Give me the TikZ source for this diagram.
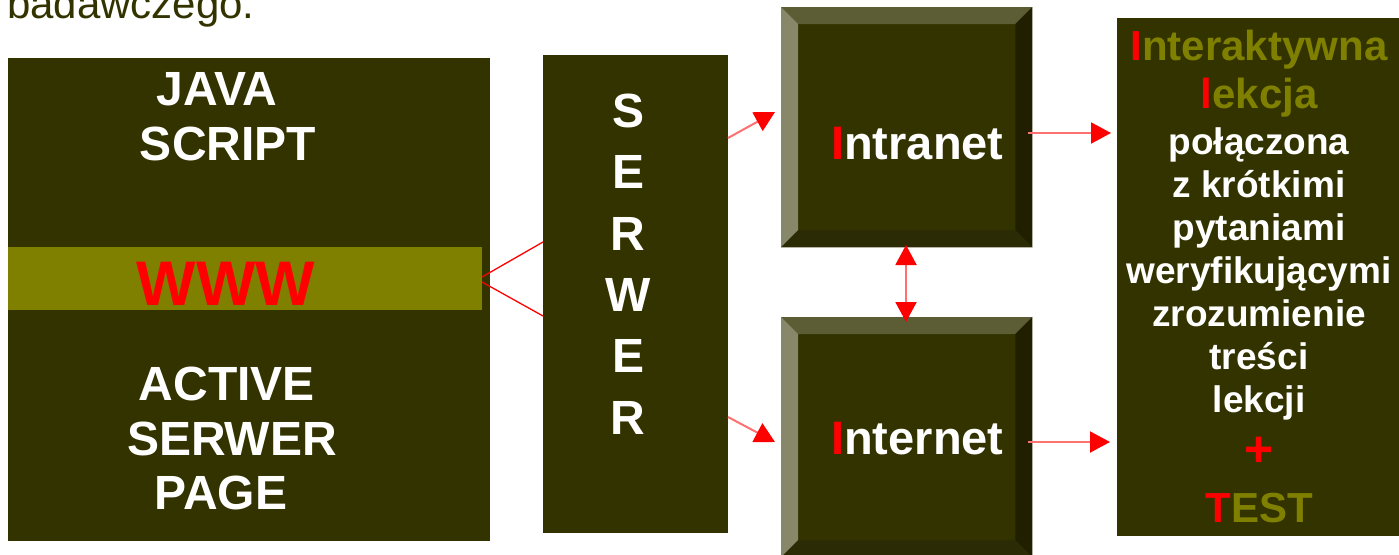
\documentclass[tikz,border=0pt]{standalone}
\usepackage{fontspec}
\setmainfont{Liberation Sans}
\usetikzlibrary{arrows.meta,calc}
\definecolor{face}{HTML}{333300}
\definecolor{olivebar}{HTML}{808000}
\definecolor{bvL}{HTML}{87876A}
\definecolor{bvT}{HTML}{5C5C35}
\definecolor{bvR}{HTML}{202000}
\definecolor{bvB}{HTML}{2B2B05}
\definecolor{conn}{HTML}{FF7070}
\newcommand\fsz[1]{\fontsize{#1}{#1}\selectfont\bfseries}
\newcommand\bevels[1]{%
\fill[bvT] (#1.north west) -- (#1.north east) -- ($(#1.north east)+(-17,17)$) -- ($(#1.north west)+(17,17)$) -- cycle;
\fill[bvL] (#1.north west) -- ($(#1.north west)+(17,17)$) -- ($(#1.south west)+(17,-17)$) -- (#1.south west) -- cycle;
\fill[bvR] (#1.north east) -- (#1.south east) -- ($(#1.south east)+(-17,-17)$) -- ($(#1.north east)+(-17,17)$) -- cycle;
\fill[bvB] (#1.south west) -- (#1.south east) -- ($(#1.south east)+(-17,-17)$) -- ($(#1.south west)+(17,-17)$) -- cycle;
}
\begin{document}
\begin{tikzpicture}[x=1pt,y=-1pt,
  panel/.style={fill=face, inner sep=0, anchor=north west},
  bevel/.style={fill=face, inner sep=0, anchor=north west, minimum width=251pt},
  wt/.style={text=white, inner sep=0, anchor=base, font=\fsz{48}},
  rt/.style={text=white, inner sep=0, anchor=base, font=\fsz{37}},
  ot/.style={text=olivebar, inner sep=0, anchor=base, font=\fsz{42}},
  arr/.style={draw=conn, line width=2pt, -{Triangle[length=20pt,width=21pt,color=red]}},
  darr/.style={draw=conn, line width=2pt, {Triangle[length=20pt,width=21pt,color=red]}-{Triangle[length=20pt,width=21pt,color=red]}},
  wline/.style={draw=red, line width=1.3pt}
]
\useasboundingbox (0,0) rectangle (1399,554);
% top text
\node[inner sep=0, anchor=base west, text=face, font=\fontsize{42}{42}\selectfont] (bad) at (7,18) {badawczego.};
% left panel
\node[panel, minimum width=482pt, minimum height=483pt] (left) at (8,58) {};
\node[fill=olivebar, inner sep=0, anchor=north west, minimum width=474pt, minimum height=63pt] (wwwbar) at (8,247) {};
\node[wt] (java) at (217,105) {JAVA};
\node[wt] (script) at (228,160) {SCRIPT};
\node[wt, text=red, font=\fsz{63}] (www) at (226,305) {WWW};
\node[wt] (active) at (227,400) {ACTIVE};
\node[wt] (serwer2) at (232,455) {SERWER};
\node[wt] (page) at (221,509) {PAGE};
% serwer panel
\node[panel, minimum width=185pt, minimum height=478pt] (serwer) at (543,55) {};
\node[wt] (s1) at (628,127) {S};
\node[wt] (s2) at (628,188) {E};
\node[wt] (s3) at (628,250) {R};
\node[wt] (s4) at (628,311) {W};
\node[wt] (s5) at (628,372) {E};
\node[wt] (s6) at (628,434) {R};
% bevel boxes
\node[bevel, minimum height=240pt] (intra) at (781,7) {};
\bevels{intra}
\node[bevel, minimum height=240pt] (inter) at (781,317) {};
\bevels{inter}
\node[wt, anchor=base west, font=\fsz{47}] (intratext) at (831,159) {\textcolor{red}{I}ntranet};
\node[wt, anchor=base west, font=\fsz{47}] (intertext) at (831,454) {\textcolor{red}{I}nternet};
% right panel
\node[panel, minimum width=282pt, minimum height=518pt] (right) at (1117,18) {};
\node[ot] (r1) at (1259,60) {\textcolor{red}{I}nteraktywna};
\node[ot] (r2) at (1259,108) {\textcolor{red}{l}ekcja};
\node[rt] (r3) at (1259,154) {połączona};
\node[rt] (r4) at (1259,197) {z krótkimi};
\node[rt] (r5) at (1259,240) {pytaniami};
\node[rt] (r6) at (1259,283) {weryfikującymi};
\node[rt] (r7) at (1259,326) {zrozumienie};
\node[rt] (r8) at (1259,369) {treści};
\node[rt] (r9) at (1259,412) {lekcji};
\node[ot, text=red, font=\fsz{50}] (plus) at (1259,466) {+};
\node[ot] (test) at (1259,522) {\textcolor{red}{T}EST};
% connectors
\coordinate (wA) at (482,277);
\coordinate (wB) at (482,282);
\coordinate (sA) at (543,242);
\coordinate (sB) at (543,316);
\draw[wline] (wA) -- (sA);
\draw[wline] (wB) -- (sB);
\coordinate (a1s) at (728,138);
\coordinate (a1e) at (775,112);
\coordinate (a2s) at (728,417);
\coordinate (a2e) at (775,442);
\coordinate (a3s) at (1028,133);
\coordinate (a3e) at (1111,133);
\coordinate (a4s) at (1028,442);
\coordinate (a4e) at (1110,442);
\coordinate (a5s) at (906,245);
\coordinate (a5e) at (906,322);
\draw[arr] (a1s) -- (a1e);
\draw[arr] (a2s) -- (a2e);
\draw[arr] (a3s) -- (a3e);
\draw[arr] (a4s) -- (a4e);
\draw[darr] (a5s) -- (a5e);
\end{tikzpicture}
\end{document}
